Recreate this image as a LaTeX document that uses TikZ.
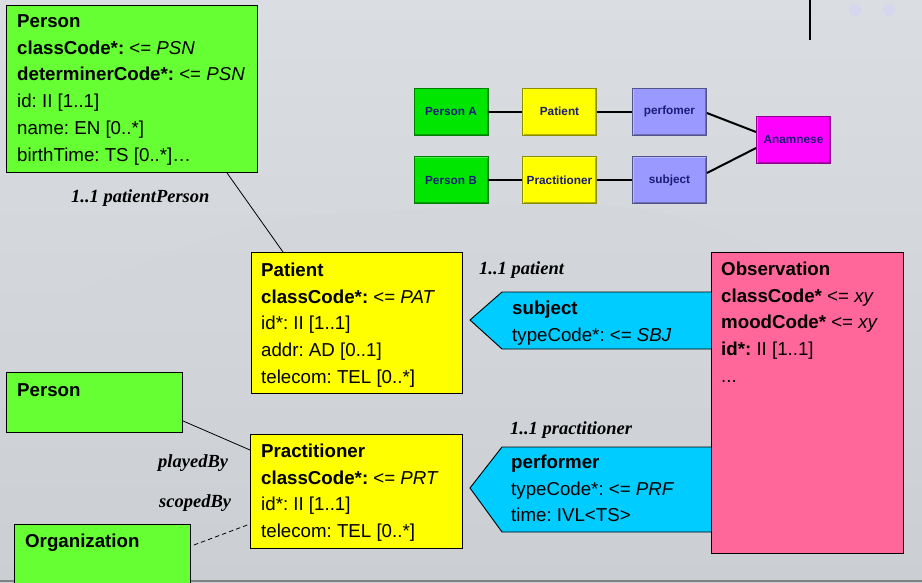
\documentclass[tikz,border=0pt]{standalone}
\usepackage{fontspec}
\setmainfont{Liberation Sans}
\newfontfamily\rolefont{Liberation Serif}
\usetikzlibrary{calc}
\frenchspacing

\definecolor{bgtop}{HTML}{DADDE1}
\definecolor{bgmid}{HTML}{E6E7E9}
\definecolor{bgbot}{HTML}{CBCFD3}
\definecolor{haze}{HTML}{D2D5D9}
\definecolor{classgreen}{HTML}{66FF33}
\definecolor{roleyellow}{HTML}{FFFF00}
\definecolor{actcyan}{HTML}{00CCFF}
\definecolor{actpink}{HTML}{FF6699}
\definecolor{minigreen}{HTML}{00E600}
\definecolor{miniyellow}{HTML}{FFFF00}
\definecolor{minilav}{HTML}{9999FF}
\definecolor{minimag}{HTML}{FF00FF}
\definecolor{navy}{HTML}{1C1C78}
\definecolor{dotlav}{HTML}{D6D6EE}

\tikzset{
  x=1pt, y=-1pt,
  classbox/.style={draw=black, line width=0.9pt, fill=#1, inner sep=0pt,
    anchor=north west},
  boxtext/.style={anchor=north west, inner sep=0pt, align=left,
    font=\fontsize{18.7}{26.8}\selectfont\frenchspacing},
  rolelabel/.style={anchor=base west, inner sep=0pt,
    font=\rolefont\fontsize{18.5}{20}\selectfont\bfseries\itshape},
  mini/.style={minimum width=74pt, minimum height=47pt, inner sep=0pt,
    font=\fontsize{11.8}{13}\selectfont\bfseries, text=navy,
    fill=#1, draw=#1!55!black, line width=0.8pt,
    path picture={
      \draw[#1!70!black, line width=3pt]
        (path picture bounding box.south west) -- (path picture bounding box.south east)
        -- (path picture bounding box.north east);
      \draw[#1!70!white, line width=2pt]
        (path picture bounding box.south west) -- (path picture bounding box.north west)
        -- (path picture bounding box.north east);}},
  miniline/.style={line width=2pt, black},
  assoc/.style={line width=0.8pt, black},
  scopeline/.style={line width=0.8pt, black, dash pattern=on 4.5pt off 3pt},
}

\begin{document}
\begin{tikzpicture}
\useasboundingbox (0,0) rectangle (922,582);

% backdrop: hazy sky with a faint range of hills
\shade[top color=bgtop, middle color=bgmid, bottom color=bgbot] (0,0) rectangle (922,582);
\fill[haze, opacity=0.45] (60,300) .. controls (160,250) and (260,215) .. (360,212)
  .. controls (440,210) and (520,200) .. (600,205) .. controls (680,210) and (760,240) .. (860,300)
  -- cycle;
\fill[dotlav] (855,10) circle (6);
\fill[dotlav] (889,10) circle (6);
\draw[line width=1.2pt] (810,0) -- (810,40);
\draw[gray, line width=1.2pt] (0,581) -- (922,581);

% ---- overview: two persons in roles feeding the anamnesis act ----
\node[mini=minigreen]  (pa)   at (451,111.5) {Person A};
\node[mini=miniyellow] (rpat) at (559.5,111.5) {Patient};
\node[mini=minilav]    (prf)  at (669.5,111.5) {perfomer};
\node[mini=minigreen]  (pb)   at (451,180) {Person B};
\node[mini=miniyellow] (rprc) at (559.5,180) {Practitioner};
\node[mini=minilav]    (sbj)  at (669.5,180) {subject};
\node[mini=minimag]    (ana)  at (793.5,139.5) {Anamnese};
\draw[miniline] (pa) -- (rpat);
\draw[miniline] (rpat) -- (prf);
\draw[miniline] (pb) -- (rprc);
\draw[miniline] (rprc) -- (sbj);
\draw[miniline] ([yshift=-1.5pt]prf.east) -- ([yshift=7.5pt]ana.west);
\draw[miniline] ([yshift=7pt]sbj.east) -- ([yshift=-8.5pt]ana.west);

% ---- entity classes ----
\node[classbox=classgreen, minimum width=251pt, minimum height=167pt] (person) at (6,5) {};
\node[boxtext] (persontxt) at (17,8.3) {\strut\textbf{Person}\\
  \textbf{classCode*:} <= \textit{PSN}\\
  \textbf{determinerCode*:} <= \textit{PSN}\\
  id: II [1..1]\\
  name: EN [0..*]\\
  birthTime: TS [0..*]…};

\node[classbox=classgreen, minimum width=176pt, minimum height=60pt] (person2) at (6,372) {};
\node[boxtext] (person2txt) at (17,377.3) {\strut\textbf{Person}};

\node[classbox=classgreen, minimum width=176pt, minimum height=80pt] (org) at (14,524) {};
\node[boxtext] (orgtxt) at (25,528.3) {\strut\textbf{Organization}};

% ---- role classes ----
\node[classbox=roleyellow, minimum width=211pt, minimum height=141pt] (patient) at (251,252) {};
\node[boxtext] (patienttxt) at (261,257.3) {\strut\textbf{Patient}\\
  \textbf{classCode*:} <= \textit{PAT}\\
  id*: II [1..1]\\
  addr: AD [0..1]\\
  telecom: TEL [0..*]};

\node[classbox=roleyellow, minimum width=212pt, minimum height=114pt] (prac) at (250,434) {};
\node[boxtext] (practxt) at (261,438.3) {\strut\textbf{Practitioner}\\
  \textbf{classCode*:} <= \textit{PRT}\\
  id*: II [1..1]\\
  telecom: TEL [0..*]};

% ---- associations between entities and roles ----
\draw[assoc] ([xshift=221pt]person.south west) -- ([xshift=32pt]patient.north west);
\draw[assoc] ([yshift=12pt]person2.south east) -- ([yshift=-16pt]prac.north west);
\draw[scopeline] ([xshift=3pt,yshift=-21pt]org.north east) -- ([yshift=-90pt]prac.north west);

\node[rolelabel] (lpp)  at (71,202)  {1..1 patientPerson};
\node[rolelabel] (lpb)  at (158,467) {playedBy};
\node[rolelabel] (lsb)  at (159,507) {scopedBy};
\node[rolelabel] (lpat) at (479,274) {1..1 patient};
\node[rolelabel] (lprc) at (510,434) {1..1 practitioner};

% ---- participations (arrow-shaped) ----
\filldraw[fill=actcyan, draw=black, line width=0.9pt]
  (470,320) -- (502,292) -- (720,292) -- (720,349) -- (502,349) -- cycle;
\node[boxtext] (subjtxt) at (512,295.3) {\strut\textbf{subject}\\
  typeCode*: <= \textit{SBJ}};

\filldraw[fill=actcyan, draw=black, line width=0.9pt]
  (470,488) -- (502,447) -- (720,447) -- (720,532) -- (502,532) -- cycle;
\node[boxtext] (perftxt) at (511,449.3) {\strut\textbf{performer}\\
  typeCode*: <= \textit{PRF}\\
  time: IVL<TS>};

% ---- act class ----
\node[classbox=actpink, minimum width=192pt, minimum height=301pt] (obs) at (711,252) {};
\node[boxtext] (obstxt) at (721,256.3) {\strut\textbf{Observation}\\
  \textbf{classCode*} <= \textit{xy}\\
  \textbf{moodCode*} <= \textit{xy}\\
  \textbf{id*:} II [1..1]\\
  ...};
\end{tikzpicture}
\end{document}
